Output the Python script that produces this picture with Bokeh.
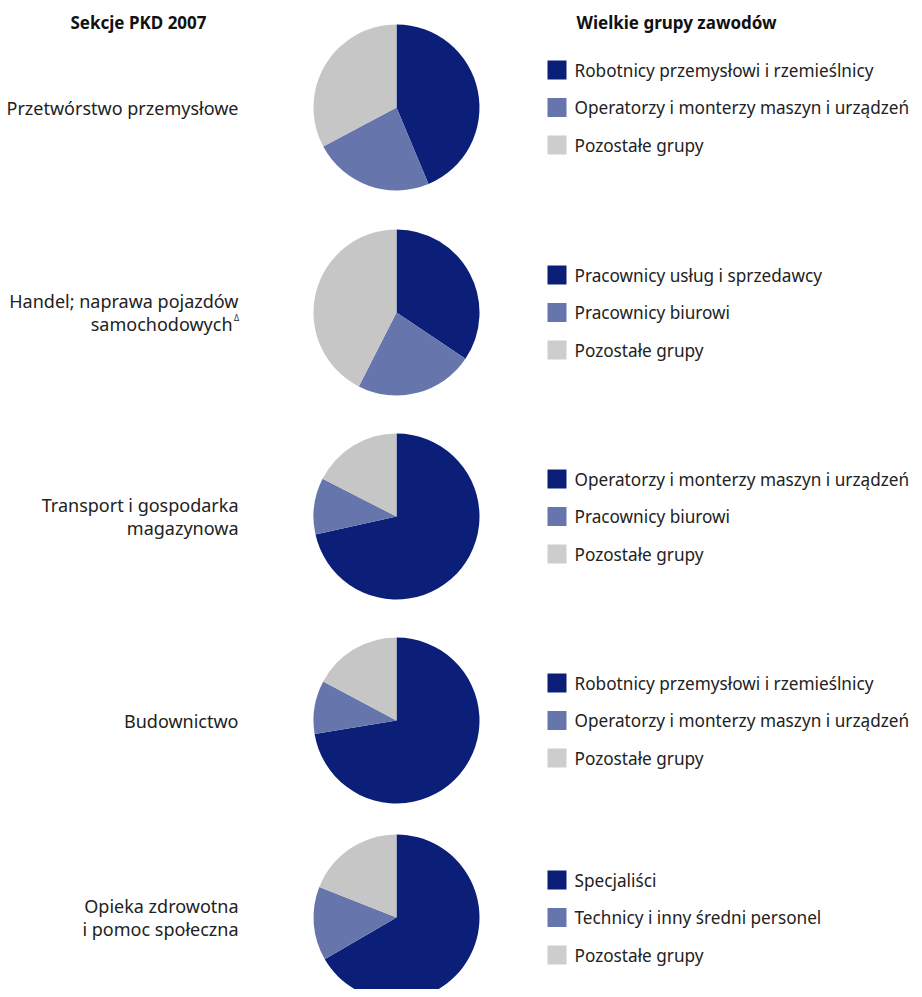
import numpy as np
from bokeh.plotting import figure
from bokeh.models import Range1d, ColumnDataSource
from bokeh.core.properties import value
from bokeh.embed import file_html
from bokeh.resources import INLINE

# ---- data ----
sections = [
    ["Przetwórstwo przemysłowe"],
    ["Handel; naprawa pojazdów", "samochodowych"],
    ["Transport i gospodarka", "magazynowa"],
    ["Budownictwo"],
    ["Opieka zdrowotna", "i pomoc społeczna"],
]
groups = [
    ["Robotnicy przemysłowi i rzemieślnicy", "Operatorzy i monterzy maszyn i urządzeń", "Pozostałe grupy"],
    ["Pracownicy usług i sprzedawcy", "Pracownicy biurowi", "Pozostałe grupy"],
    ["Operatorzy i monterzy maszyn i urządzeń", "Pracownicy biurowi", "Pozostałe grupy"],
    ["Robotnicy przemysłowi i rzemieślnicy", "Operatorzy i monterzy maszyn i urządzeń", "Pozostałe grupy"],
    ["Specjaliści", "Technicy i inny średni personel", "Pozostałe grupy"],
]
shares = [
    [43.7, 23.5, 32.8],
    [34.4, 23.1, 42.5],
    [71.5, 11.0, 17.5],
    [72.4, 10.4, 17.2],
    [66.6, 14.4, 19.0],
]
colors = ["#0B1F78", "#6775AD", "#C6C6C6"]
legend_colors = ["#0B1F78", "#6775AD", "#CDCDCD"]
header_left = "Sekcje PKD 2007"
header_right = "Wielkie grupy zawodów"
footnote_mark = "\u0394"

# ---- layout (pixels on screen) ----
W, H = 914, 989
def Y(ys):
    return 997 - ys

centers_y = [107, 312, 516, 720, 917]
pie_x = 396
radius = 83
font = value("Noto Sans")
txt_color = "#222222"

p = figure(width=W, height=H, x_range=Range1d(0, W), y_range=Range1d(997 - H, 997),
           output_backend="svg", toolbar_location=None,
           x_axis_location=None, y_axis_location=None, min_border=0)
p.outline_line_color = None
p.grid.visible = False
p.background_fill_color = "white"
p.border_fill_color = "white"

for i, (vals, cy) in enumerate(zip(shares, centers_y)):
    v = np.array(vals, dtype=float)
    frac = v / v.sum()
    cum = np.concatenate([[0], np.cumsum(frac)])
    start = np.pi / 2 - 2 * np.pi * cum[:-1]
    end = np.pi / 2 - 2 * np.pi * cum[1:]
    src = ColumnDataSource(dict(x=[pie_x] * 3, y=[Y(cy)] * 3, s=start, e=end, c=colors))
    p.wedge(x="x", y="y", radius=radius, start_angle="s", end_angle="e",
            direction="clock", fill_color="c", line_color=None, source=src)

    # left labels
    lines = sections[i]
    n = len(lines)
    offs = [0] if n == 1 else [-11.5, 11.5]
    xs = [238] * n
    if i == 1:
        xs = [238, 232]
    p.text(x=xs, y=[Y(cy + o) for o in offs], text=lines,
           text_align="right", text_baseline="middle", text_font=font,
           text_font_size="18px", text_color=txt_color)

    # legend
    ly = [cy - 37.5, cy, cy + 37.5]
    p.scatter(x=[556.5] * 3, y=[Y(v2) for v2 in ly], marker="square", size=19,
              fill_color=legend_colors, line_color=None)
    p.text(x=[574] * 3, y=[Y(v2) for v2 in ly], text=groups[i],
           text_align="left", text_baseline="middle", text_font=font,
           text_font_size="17.2px", text_color=txt_color)

# superscript footnote mark after "samochodowych"
p.text(x=[233.5], y=[Y(centers_y[1] + 5)], text=[footnote_mark], text_align="left",
       text_baseline="middle", text_font=font, text_font_size="8px", text_color=txt_color)

p.text(x=[138], y=[Y(22)], text=[header_left], text_align="center",
       text_baseline="middle", text_font=value("Noto Sans"), text_font_style="bold",
       text_font_size="17px", text_color="#111111")
p.text(x=[576], y=[Y(22)], text=[header_right], text_align="left",
       text_baseline="middle", text_font=value("Noto Sans"), text_font_style="bold",
       text_font_size="17px", text_color="#111111")

open("out.html", "w").write(file_html(p, INLINE))
